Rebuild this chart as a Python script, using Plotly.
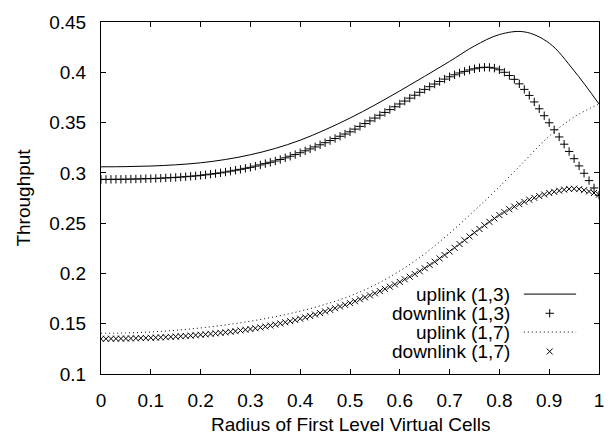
import plotly.graph_objects as go

# ---------------- data ----------------
radius_line = [0.00, 0.05, 0.10, 0.15, 0.20, 0.25, 0.30, 0.35, 0.40, 0.45, 0.50,
               0.55, 0.60, 0.65, 0.70, 0.75, 0.80, 0.85, 0.90, 0.95, 1.00]

uplink_13 = [0.3060, 0.3062, 0.3068, 0.3080, 0.3100, 0.3133, 0.3180, 0.3243, 0.3325, 0.3428, 0.3545,
             0.3675, 0.3815, 0.3960, 0.4108, 0.4262, 0.4375, 0.4402, 0.4290, 0.4015, 0.3685]

uplink_17 = [0.1405, 0.1408, 0.1418, 0.1435, 0.1458, 0.1488, 0.1525, 0.1570, 0.1625, 0.1692, 0.1775,
             0.1885, 0.2025, 0.2195, 0.2400, 0.2625, 0.2862, 0.3115, 0.3365, 0.3555, 0.3685]

radius_pts = [i / 100 for i in range(101)]

downlink_13 = [
    0.2935, 0.2935, 0.2935, 0.2936, 0.2936, 0.2937, 0.2938, 0.2939, 0.2940, 0.2942,
    0.2943, 0.2945, 0.2947, 0.2950, 0.2952, 0.2955, 0.2958, 0.2962, 0.2966, 0.2970,
    0.2975, 0.2981, 0.2987, 0.2993, 0.3000, 0.3008, 0.3017, 0.3026, 0.3035, 0.3045,
    0.3055, 0.3067, 0.3079, 0.3092, 0.3105, 0.3118, 0.3133, 0.3149, 0.3165, 0.3182,
    0.3200, 0.3219, 0.3238, 0.3258, 0.3279, 0.3300, 0.3321, 0.3342, 0.3364, 0.3386,
    0.3408, 0.3435, 0.3462, 0.3490, 0.3517, 0.3545, 0.3573, 0.3601, 0.3629, 0.3657,
    0.3685, 0.3714, 0.3743, 0.3772, 0.3801, 0.3830, 0.3857, 0.3883, 0.3908, 0.3932,
    0.3955, 0.3975, 0.3993, 0.4009, 0.4023, 0.4035, 0.4045, 0.4050, 0.4049, 0.4041,
    0.4025, 0.4000, 0.3968, 0.3930, 0.3885, 0.3830, 0.3770, 0.3705, 0.3637, 0.3568,
    0.3498, 0.3428, 0.3357, 0.3285, 0.3213, 0.3141, 0.3069, 0.2996, 0.2923, 0.2850,
    0.2778]

downlink_17 = [
    0.1350, 0.1350, 0.1351, 0.1351, 0.1352, 0.1353, 0.1354, 0.1355, 0.1357, 0.1358,
    0.1360, 0.1362, 0.1364, 0.1366, 0.1369, 0.1372, 0.1375, 0.1378, 0.1382, 0.1386,
    0.1390, 0.1394, 0.1399, 0.1404, 0.1409, 0.1414, 0.1420, 0.1426, 0.1433, 0.1440,
    0.1447, 0.1455, 0.1463, 0.1472, 0.1482, 0.1492, 0.1503, 0.1514, 0.1525, 0.1537,
    0.1550, 0.1563, 0.1577, 0.1591, 0.1606, 0.1622, 0.1638, 0.1654, 0.1671, 0.1688,
    0.1705, 0.1724, 0.1743, 0.1762, 0.1782, 0.1802, 0.1824, 0.1846, 0.1868, 0.1891,
    0.1915, 0.1941, 0.1967, 0.1994, 0.2022, 0.2052, 0.2084, 0.2116, 0.2149, 0.2183,
    0.2218, 0.2255, 0.2292, 0.2330, 0.2368, 0.2405, 0.2442, 0.2478, 0.2513, 0.2547,
    0.2580, 0.2610, 0.2638, 0.2664, 0.2689, 0.2712, 0.2733, 0.2752, 0.2769, 0.2785,
    0.2800, 0.2812, 0.2823, 0.2833, 0.2840, 0.2842, 0.2838, 0.2828, 0.2815, 0.2800,
    0.2783]

x_tickvals = [0, 0.1, 0.2, 0.3, 0.4, 0.5, 0.6, 0.7, 0.8, 0.9, 1.0]
x_ticktext = ["0", "0.1", "0.2", "0.3", "0.4", "0.5", "0.6", "0.7", "0.8", "0.9", "1"]
y_tickvals = [0.10, 0.15, 0.20, 0.25, 0.30, 0.35, 0.40, 0.45]
y_ticktext = ["0.1", "0.15", "0.2", "0.25", "0.3", "0.35", "0.4", "0.45"]

legend_labels = ["uplink (1,3)", "downlink (1,3)", "uplink (1,7)", "downlink (1,7)"]

x_title = "Radius of First Level Virtual Cells"
y_title = "Throughput"

# ---------------- styling ----------------
FONT = "Liberation Sans, Arial, Helvetica, sans-serif"
FS = 19
BLACK = "black"
DOT = "1px,3px"
MSIZE = 6

fig = go.Figure()

fig.add_trace(go.Scatter(x=radius_line, y=uplink_13, mode="lines",
                         line=dict(color=BLACK, width=1, shape="spline"),
                         showlegend=False, hoverinfo="skip"))
fig.add_trace(go.Scatter(x=radius_pts, y=downlink_13, mode="markers",
                         marker=dict(symbol="cross-thin-open", size=MSIZE, color=BLACK,
                                     line=dict(color=BLACK, width=1)),
                         showlegend=False))
fig.add_trace(go.Scatter(x=radius_line, y=uplink_17, mode="lines",
                         line=dict(color=BLACK, width=1, shape="spline", dash=DOT),
                         showlegend=False))
fig.add_trace(go.Scatter(x=radius_pts, y=downlink_17, mode="markers",
                         marker=dict(symbol="x-thin-open", size=MSIZE, color=BLACK,
                                     line=dict(color=BLACK, width=1)),
                         showlegend=False))

# ---- custom gnuplot-style key (text right-aligned, sample on the right) ----
key_rows_y = [0.2270, 0.1725, 0.1190, 0.0640]   # paper y of each key row
key_text_x = 0.8255
key_line_x0, key_line_x1 = 0.849, 0.954
key_mark_x = 0.901

annotations = []
shapes = []
for lab, ry in zip(legend_labels, key_rows_y):
    annotations.append(dict(text=lab, x=key_text_x, y=ry, xref="paper", yref="paper",
                            xanchor="right", yanchor="middle", showarrow=False,
                            font=dict(family=FONT, size=FS, color=BLACK)))
shapes.append(dict(type="line", xref="paper", yref="paper", x0=key_line_x0, x1=key_line_x1,
                   y0=key_rows_y[0], y1=key_rows_y[0], line=dict(color=BLACK, width=1)))
shapes.append(dict(type="line", xref="paper", yref="paper", x0=key_line_x0, x1=key_line_x1,
                   y0=key_rows_y[2], y1=key_rows_y[2], line=dict(color=BLACK, width=1, dash=DOT)))

fig.add_trace(go.Scatter(x=[key_mark_x], y=[key_rows_y[1]], xaxis="x2", yaxis="y2", mode="markers",
                         marker=dict(symbol="cross-thin-open", size=MSIZE, color=BLACK,
                                     line=dict(color=BLACK, width=1)),
                         showlegend=False, hoverinfo="skip"))
fig.add_trace(go.Scatter(x=[key_mark_x], y=[key_rows_y[3]], xaxis="x2", yaxis="y2", mode="markers",
                         marker=dict(symbol="x-thin-open", size=MSIZE, color=BLACK,
                                     line=dict(color=BLACK, width=1)),
                         showlegend=False, hoverinfo="skip"))

# axis titles
annotations.append(dict(text=x_title, x=0.5, y=-0.143, xref="paper", yref="paper",
                        xanchor="center", yanchor="middle", showarrow=False,
                        font=dict(family=FONT, size=FS, color=BLACK)))
annotations.append(dict(text=y_title, x=-0.1575, y=0.5, xref="paper", yref="paper",
                        xanchor="center", yanchor="middle", showarrow=False, textangle=-90,
                        font=dict(family=FONT, size=FS, color=BLACK)))

axis_common = dict(showline=True, linecolor=BLACK, linewidth=1, mirror="ticks",
                   ticks="inside", ticklen=5, tickwidth=1, tickcolor=BLACK,
                   showgrid=False, zeroline=False,
                   tickfont=dict(family=FONT, size=FS, color=BLACK))

fig.update_layout(
    width=616, height=437,
    margin=dict(l=101, r=13, t=13, b=63),
    paper_bgcolor="white", plot_bgcolor="white",
    xaxis=dict(range=[0, 1], tickmode="array", tickvals=x_tickvals, ticktext=x_ticktext,
               ticklabelstandoff=9, **axis_common),
    yaxis=dict(range=[0.1, 0.45], tickmode="array", tickvals=y_tickvals, ticktext=y_ticktext,
               ticklabelstandoff=10, **axis_common),
    xaxis2=dict(overlaying="x", anchor="y2", range=[0, 1], visible=False),
    yaxis2=dict(overlaying="y", anchor="x2", range=[0, 1], visible=False),
    annotations=annotations,
    shapes=shapes,
    showlegend=False,
)

fig.write_html("out.html")
